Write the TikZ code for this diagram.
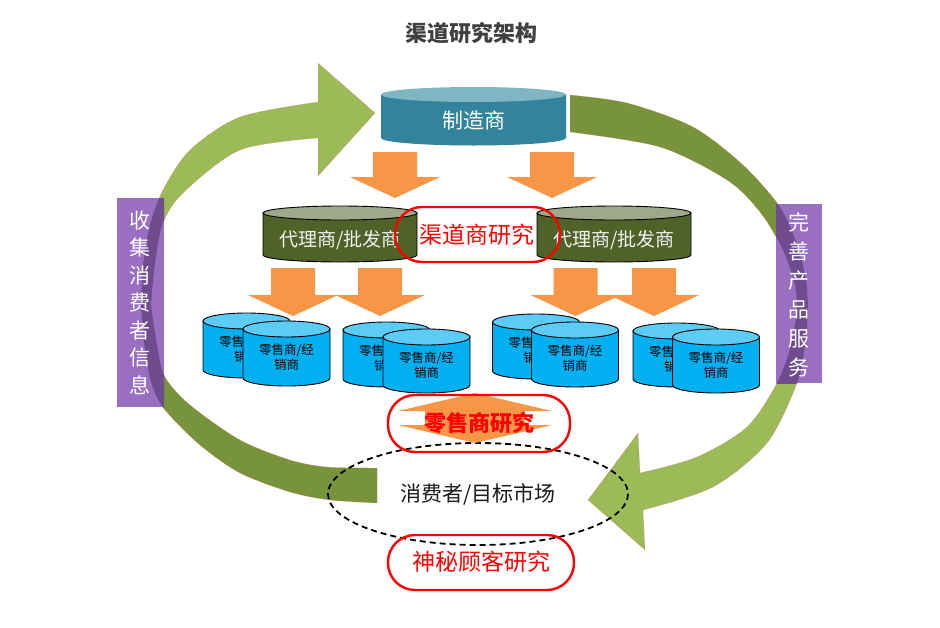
\documentclass[tikz,border=0pt]{standalone}
\usepackage{fontspec}
\setmainfont{Noto Sans CJK SC}
\definecolor{mfgbody}{HTML}{31849B}
\definecolor{mfgtop}{HTML}{80B5C4}
\definecolor{agbody}{HTML}{4F6228}
\definecolor{agtop}{HTML}{A0A88A}
\definecolor{agtext}{HTML}{F2F2F2}
\definecolor{rtbody}{HTML}{00B0F0}
\definecolor{rttop}{HTML}{5CCBF5}
\definecolor{orng}{HTML}{F79646}
\definecolor{lgreen}{HTML}{9BBB59}
\definecolor{olivegr}{HTML}{77933C}
\definecolor{labpurple}{HTML}{9A6FC2}
\definecolor{labdark}{HTML}{6E4C8E}
\definecolor{titlegray}{HTML}{404040}
\definecolor{pillred}{HTML}{FF0000}

% cylinder: cx, ytop-centre, ybot-centre, rx, ry, body, top, options
\newcommand{\mycyl}[8]{%
  \path[fill=#6,#8] ({#1-#4},#2) -- ({#1-#4},#3)
    .. controls ({#1-#4},{#3+0.5523*#5}) and ({#1-0.5523*#4},{#3+#5}) .. (#1,{#3+#5})
    .. controls ({#1+0.5523*#4},{#3+#5}) and ({#1+#4},{#3+0.5523*#5}) .. ({#1+#4},#3)
    -- ({#1+#4},#2) -- cycle;
  \path[fill=#7,#8] (#1,#2) ellipse[x radius=#4,y radius=#5];
}
% down arrow: cx, ytop, yhead, ytip, shaft half, head half
\newcommand{\mydown}[6]{%
  \fill[orng] ({#1-#5},#2) -- ({#1+#5},#2) -- ({#1+#5},#3) -- ({#1+#6},#3)
    -- (#1,#4) -- ({#1-#6},#3) -- ({#1-#5},#3) -- cycle;
}
\def\leftgreenpath{plot[smooth] coordinates {(141,305) (143,265) (150,225) (163,190) (190,150) (240,117) (318,102)} -- (318,63) -- (375,113) -- (318,176) -- plot[smooth] coordinates {(318,138) (240,150) (183,193) (163,223) (155,263) (151,305)} -- cycle}
\def\leftolivepath{plot[smooth] coordinates {(141,305) (145,350) (152,385) (165,410) (200,445) (240,473) (290,492) (330,500) (377,503)} -- plot[smooth] coordinates {(377,468) (327,467) (290,460) (240,440) (190,405) (165,377) (157,345) (151,305)} -- cycle}
\def\rightolivepath{plot[smooth] coordinates {(570,95) (627,103) (693,127) (743,165) (780,207) (797,245) (806,280) (808,310)} -- plot[smooth] coordinates {(797,310) (795,285) (783,250) (760,212) (727,180) (660,147) (570,132)} -- cycle}
\def\rightgreenpath{plot[smooth] coordinates {(808,310) (805,345) (797,383) (767,443) (713,487) (643,510)} -- (645,550) -- (588,500) -- (638,433) -- plot[smooth] coordinates {(640,473) (697,457) (747,427) (777,383) (791,345) (797,310)} -- cycle}

\begin{document}
\begin{tikzpicture}[x=1pt,y=-1pt,
  bandline/.style={draw=red!55, line width=0.5pt, densely dotted},
  rtline/.style={draw=black, line width=0.9pt},
  agline/.style={draw=black, line width=0.9pt},
  noline/.style={draw=none},
  pill/.style={draw=pillred, line width=2.4pt, rounded corners=27pt},
  pilltxt/.style={text=pillred, font=\fontsize{23}{23}\selectfont},
  rttxt/.style={text=black, align=center, font=\fontsize{12.5}{15}\selectfont},
  agtxt/.style={text=agtext, font=\fontsize{19}{19}\selectfont},
  labtxt/.style={text=white, align=center, font=\fontsize{21}{27.5}\selectfont},
]
\useasboundingbox (0,0) rectangle (940,627);

% title
\node[text=titlegray, font=\bfseries\fontsize{22}{22}\selectfont] (title) at (471,33) {渠道研究架构};

% green circular bands
\path[fill=lgreen, bandline] \leftgreenpath;
\path[fill=olivegr, bandline] \leftolivepath;
\path[fill=olivegr, bandline] \rightolivepath;
\path[fill=lgreen, bandline] \rightgreenpath;

% side labels
\fill[labpurple] (117,198) rectangle (164,407);
\fill[labpurple] (776,204) rectangle (822,383);
\begin{scope}
  \clip (117,198) rectangle (164,407);
  \fill[labdark] \leftgreenpath;
  \fill[labdark] \leftolivepath;
\end{scope}
\begin{scope}
  \clip (776,204) rectangle (822,383);
  \fill[labdark] \rightolivepath;
  \fill[labdark] \rightgreenpath;
\end{scope}
\node[labtxt] (leftlab) at (140,302.5) {收\\集\\消\\费\\者\\信\\息};
\node[labtxt, font=\fontsize{21}{29}\selectfont] (rightlab) at (799,295) {完\\善\\产\\品\\服\\务};

% manufacturer
\mycyl{473.5}{94.5}{138}{92.5}{7.5}{mfgbody}{mfgtop}{noline}
\node[text=white, font=\fontsize{21}{21}\selectfont] (mfg) at (474,120) {制造商};

% big orange arrows
\mydown{395}{152}{177}{198}{22}{45}
\mydown{552}{152}{177}{198}{22}{45}

% agents
\mycyl{340}{213}{255}{77}{7}{agbody}{agtop}{agline}
\mycyl{614}{213}{255}{77}{7}{agbody}{agtop}{agline}
\node[agtxt] (agl) at (340,240) {代理商/批发商};
\node[agtxt] (agr) at (614,240) {代理商/批发商};

% small orange arrows
\mydown{293}{268}{295}{316}{22}{45}
\mydown{380}{268}{295}{316}{22}{45}
\mydown{575.5}{268}{295}{316}{22}{45}
\mydown{654}{268}{295}{316}{22}{45}

% retail cylinders (back, then front)
\mycyl{246.5}{321}{370}{43.5}{8}{rtbody}{rttop}{rtline}
\node[rttxt] (r1b) at (246.5,349.5) {零售商/经\\销商};
\mycyl{286.5}{329}{378}{43.5}{8}{rtbody}{rttop}{rtline}
\node[rttxt] (r1f) at (286.5,357.5) {零售商/经\\销商};

\mycyl{386.5}{330}{379}{43.5}{8}{rtbody}{rttop}{rtline}
\node[rttxt] (r2b) at (386.5,358.5) {零售商/经\\销商};
\mycyl{426.5}{337}{385}{43.5}{8}{rtbody}{rttop}{rtline}
\node[rttxt] (r2f) at (426.5,365.5) {零售商/经\\销商};

\mycyl{536}{322}{371}{43.5}{8}{rtbody}{rttop}{rtline}
\node[rttxt] (r3b) at (536,350.5) {零售商/经\\销商};
\mycyl{575}{330}{379}{43.5}{8}{rtbody}{rttop}{rtline}
\node[rttxt] (r3f) at (575,358.5) {零售商/经\\销商};

\mycyl{676.5}{331}{379}{43.5}{8}{rtbody}{rttop}{rtline}
\node[rttxt] (r4b) at (676.5,359.5) {零售商/经\\销商};
\mycyl{716}{337}{385}{43.5}{8}{rtbody}{rttop}{rtline}
\node[rttxt] (r4f) at (716,365.5) {零售商/经\\销商};

% consumers ellipse
\draw[black, line width=1.8pt, dash pattern=on 6pt off 4pt] (478,494) ellipse[x radius=150, y radius=51];
\node[text=black!90, font=\fontsize{21}{21}\selectfont] (cons) at (478,494) {消费者/目标市场};

% retail research double arrow
\fill[orng] (475,393) -- (552,411) -- (525,411) -- (525,425) -- (552,425) -- (475,443)
  -- (398,425) -- (425,425) -- (425,411) -- (398,411) -- cycle;

% research pills
\draw[pill] (395,207) rectangle (560,262);
\node[pilltxt] (chres) at (477,235) {渠道商研究};
\draw[pill] (388,395) rectangle (570,452);
\node[pilltxt, font=\bfseries\fontsize{22}{22}\selectfont] (rtres) at (479,423) {零售商研究};
\draw[pill] (388,535) rectangle (574,590);
\node[pilltxt] (mys) at (481,562) {神秘顾客研究};
\end{tikzpicture}
\end{document}
